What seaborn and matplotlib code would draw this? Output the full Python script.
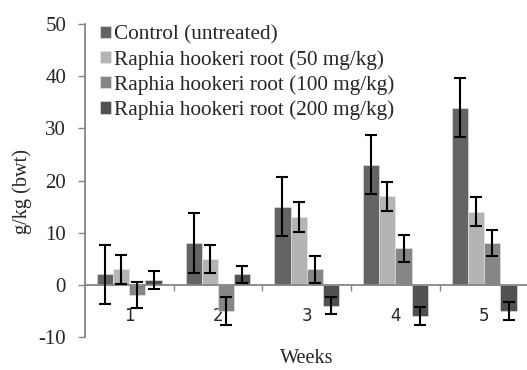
import matplotlib
matplotlib.use("Agg")
from matplotlib import pyplot as plt
from matplotlib.patches import Patch
import seaborn as sns
import pandas as pd
import numpy as np

# data
weeks = ['1', '2', '3', '4', '5']
groups = ['Control (untreated)',
          'Raphia hookeri root (50 mg/kg)',
          'Raphia hookeri root (100 mg/kg)',
          'Raphia hookeri root (200 mg/kg)']
control = [2, 8, 15, 23, 34]
dose_50 = [3, 5, 13, 17, 14]
dose_100 = [-2, -5, 3, 7, 8]
dose_200 = [1, 2, -4, -6, -5]
err_control = [5.6, 5.7, 5.6, 5.65, 5.6]
err_50 = [2.8, 2.7, 2.8, 2.75, 2.8]
err_100 = [2.5, 2.6, 2.6, 2.6, 2.55]
err_200 = [1.7, 1.6, 1.65, 1.7, 1.65]
colors = ['#646464', '#b4b4b4', '#868686', '#515151']

values = [control, dose_50, dose_100, dose_200]
errors = [err_control, err_50, err_100, err_200]
df = pd.DataFrame({
    'week': weeks * 4,
    'group': np.repeat(groups, len(weeks)),
    'value': np.concatenate(values),
})

sns.set_style('white')
plt.rcParams['font.family'] = ['Liberation Serif', 'DejaVu Serif']
plt.rcParams['axes.unicode_minus'] = False

fig = plt.figure(figsize=(5.27, 3.70), dpi=100)
ax = fig.add_axes([0.161, 0.089, 0.842, 0.846])

sns.barplot(data=df, x='week', y='value', hue='group', order=weeks,
            hue_order=groups, palette=colors, width=0.73, gap=0,
            edgecolor='#e8e8e8', linewidth=0.4, errorbar=None,
            legend=False, ax=ax, zorder=2)

# error bars on the bar centres
for cont, err in zip(ax.containers, errors):
    xs = [b.get_x() + b.get_width() / 2 for b in cont]
    ys = [b.get_height() + b.get_y() for b in cont]
    ax.errorbar(xs, ys, yerr=err, fmt='none', ecolor='black',
                elinewidth=1.5, capsize=4.5, capthick=1.5, zorder=3)

ax.set_ylim(-10, 50)
ax.set_xlim(-0.5, 4.5)
ax.set_yticks(range(-10, 51, 10))
ax.tick_params(axis='y', labelsize=15, length=5, width=1,
               color='#868686', direction='out', left=True, pad=8.5)

# x axis sits on zero
for s in ['top', 'right']:
    ax.spines[s].set_visible(False)
ax.spines['left'].set_color('#868686')
ax.spines['left'].set_linewidth(1.3)
ax.spines['bottom'].set_position(('data', 0))
ax.spines['bottom'].set_color('#868686')
ax.spines['bottom'].set_linewidth(1.3)
ax.set_xticks(range(5))
ax.set_xticklabels(weeks, family=['DejaVu Sans'], fontsize=12)
ax.tick_params(axis='x', length=0, pad=16)
ax.set_xticks(np.arange(0.5, 4.5, 1), minor=True)
ax.tick_params(axis='x', which='minor', length=4, width=1,
               color='#868686', direction='out', bottom=True)

ax.set_xlabel('Weeks', fontsize=14.6)
ax.xaxis.set_label_coords(0.5, -0.038)
ax.set_ylabel('g/kg (bwt)', fontsize=14.6)
ax.yaxis.set_label_coords(-0.12, 0.466)

handles = [Patch(facecolor=c, edgecolor='#e8e8e8', linewidth=0.4) for c in colors]
ax.legend(handles, groups, loc='upper left', bbox_to_anchor=(0.035, 0.995),
          frameon=False, fontsize=15.3, handlelength=0.5, handleheight=0.5,
          handletextpad=0.15, labelspacing=0.25, borderaxespad=0,
          borderpad=0)

fig.savefig('out.png', dpi=100)
